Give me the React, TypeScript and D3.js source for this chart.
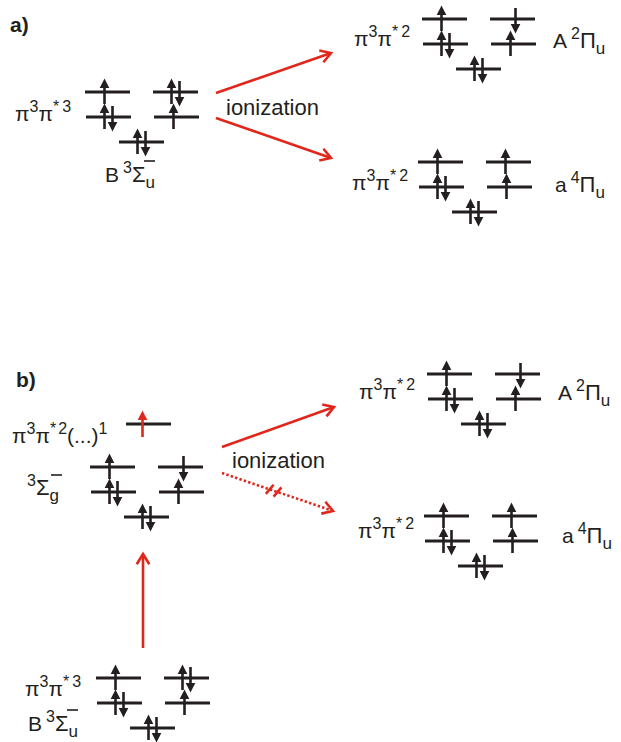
import React from "react";
import * as d3 from "d3";

// electron occupancy of the 5 levels: top-left, top-right, mid-left, mid-right, bottom
const levelKeys = ["TL", "TR", "ML", "MR", "B"];
const occB3Su = ["up", "pair", "pair", "up", "pair"];
const occA2Pu = ["up", "down", "pair", "up", "pair"];
const occa4Pu = ["up", "up", "pair", "up", "pair"];
const occ3Sg = ["up", "down", "pair", "up", "pair"];

const rows = ["top", "mid", "bottom"];
const cols = ["left", "center", "right"];

const RED = "#e1261c";
const INK = "#231f20";
const FONT = "'Liberation Sans', Arial, sans-serif";

const rowY = d3.scalePoint<string>().domain(rows).range([0, 50]);
const colX = d3.scalePoint<string>().domain(cols).range([0, 68]);
const levelPos: Record<string, [string, string, number]> = {
  TL: ["left", "top", 0],
  TR: ["right", "top", 0],
  ML: ["left", "mid", 1],
  MR: ["right", "mid", 1],
  B: ["center", "bottom", 0],
};
const LW = 45;

function Electron({ x, y, dir }: { x: number; y: number; dir: "up" | "down" }) {
  const p = d3.path();
  if (dir === "up") {
    p.moveTo(x, y + 12);
    p.lineTo(x, y - 5);
  } else {
    p.moveTo(x, y - 11);
    p.lineTo(x, y + 6);
  }
  const h = d3.path();
  if (dir === "up") {
    h.moveTo(x, y - 13.5);
    h.lineTo(x - 4.8, y - 4);
    h.lineTo(x + 4.8, y - 4);
  } else {
    h.moveTo(x, y + 14.5);
    h.lineTo(x - 4.8, y + 5);
    h.lineTo(x + 4.8, y + 5);
  }
  h.closePath();
  return (
    <g>
      <path d={p.toString()} stroke={INK} strokeWidth={2.6} />
      <path d={h.toString()} fill={INK} />
    </g>
  );
}

function Diagram({ ox, oy, occ }: { ox: number; oy: number; occ: string[] }) {
  return (
    <g transform={`translate(${ox},${oy})`}>
      {levelKeys.map((k, i) => {
        const [c, r, dx] = levelPos[k];
        const x0 = (colX(c) as number) + dx;
        const y = rowY(r) as number;
        const cx = x0 + LW / 2;
        const o = occ[i];
        return (
          <g key={k}>
            <line x1={x0} x2={x0 + LW} y1={y} y2={y} stroke={INK} strokeWidth={3.2} />
            {o === "pair" && (
              <>
                <Electron x={cx - 4} y={y} dir="up" />
                <Electron x={cx + 4} y={y} dir="down" />
              </>
            )}
            {o === "up" && <Electron x={cx - 3} y={y} dir="up" />}
            {o === "down" && <Electron x={cx + 3} y={y} dir="down" />}
          </g>
        );
      })}
    </g>
  );
}

function RedArrow({ x1, y1, x2, y2, dotted = false, broken = false }: any) {
  const a = Math.atan2(y2 - y1, x2 - x1);
  const L = 12;
  const spread = 0.55;
  const head = d3.path();
  head.moveTo(x2 - L * Math.cos(a - spread), y2 - L * Math.sin(a - spread));
  head.lineTo(x2, y2);
  head.lineTo(x2 - L * Math.cos(a + spread), y2 - L * Math.sin(a + spread));
  const marks: React.ReactNode[] = [];
  if (broken) {
    [0.43, 0.5].forEach((t, i) => {
      const mx = x1 + (x2 - x1) * t;
      const my = y1 + (y2 - y1) * t;
      const b = a - 1.2;
      marks.push(
        <line
          key={i}
          x1={mx - 6 * Math.cos(b)}
          y1={my - 6 * Math.sin(b)}
          x2={mx + 6 * Math.cos(b)}
          y2={my + 6 * Math.sin(b)}
          stroke={RED}
          strokeWidth={2.6}
        />
      );
    });
  }
  return (
    <g>
      <line
        x1={x1}
        y1={y1}
        x2={x2 - 1.5 * Math.cos(a)}
        y2={y2 - 1.5 * Math.sin(a)}
        stroke={RED}
        strokeWidth={2.6}
        strokeDasharray={dotted ? "2.4,2.2" : undefined}
      />
      <path d={head.toString()} fill="none" stroke={RED} strokeWidth={2.6} />
      {marks}
    </g>
  );
}

function Pi({ x, y, star }: { x: number; y: number; star: string }) {
  return (
    <text x={x} y={y} fontSize={21} fill={INK} fontFamily={FONT}>
      π<tspan fontSize={16} dy={-9}>3</tspan>
      <tspan dy={9}>π</tspan>
      <tspan fontSize={16} dy={-9}>*</tspan>
      <tspan fontSize={16} dx={3}>{star}</tspan>
    </text>
  );
}

function Term({ x, y, letter, mult, sym, sub }: any) {
  return (
    <text x={x} y={y} fontSize={21} fill={INK} fontFamily={FONT}>
      {letter}
      <tspan fontSize={16} dy={-9} dx={letter ? 4 : 0}>{mult}</tspan>
      <tspan dy={9} fontSize={22}>{sym}</tspan>
      <tspan fontSize={17} dy={6}>{sub}</tspan>
    </text>
  );
}

function Minus({ x, y }: { x: number; y: number }) {
  return <line x1={x} x2={x + 11} y1={y} y2={y} stroke={INK} strokeWidth={1.6} />;
}

export default function App() {
  return (
    <svg width={621} height={742} style={{ position: "absolute", left: 0, top: 0 }}>
      <rect width={621} height={742} fill="white" />
      {/* panel a */}
      <text x={10} y={32} fontSize={21} fontWeight="bold" fill={INK} fontFamily={FONT}>a)</text>
      <Pi x={15} y={121} star="3" />
      <Diagram ox={85} oy={92} occ={occB3Su} />
      <Term x={105} y={182} letter="B" mult="3" sym="Σ" sub="u" />
      <Minus x={144} y={161} />
      <RedArrow x1={216} y1={93} x2={331} y2={53} />
      <RedArrow x1={216} y1={118} x2={331} y2={158} />
      <text x={226} y={115} fontSize={22} fill={INK} fontFamily={FONT}>ionization</text>

      <Pi x={354} y={46} star="2" />
      <Diagram ox={422} oy={19} occ={occA2Pu} />
      <Term x={553} y={48} letter="A" mult="2" sym="Π" sub="u" />

      <Pi x={352} y={190} star="2" />
      <Diagram ox={418} oy={162} occ={occa4Pu} />
      <Term x={555} y={192} letter="a" mult="4" sym="Π" sub="u" />

      {/* panel b */}
      <text x={16} y={387} fontSize={21} fontWeight="bold" fill={INK} fontFamily={FONT}>b)</text>
      <text x={12} y={443} fontSize={21} fill={INK} fontFamily={FONT}>
        π<tspan fontSize={16} dy={-9}>3</tspan>
        <tspan dy={9}>π</tspan>
        <tspan fontSize={16} dy={-9}>*</tspan>
        <tspan fontSize={16} dx={2}>2</tspan>
        <tspan dy={9}>(...)</tspan>
        <tspan fontSize={16} dy={-9}>1</tspan>
      </text>
      <line x1={126} x2={171} y1={424} y2={424} stroke={INK} strokeWidth={3.2} />
      <line x1={142.5} x2={142.5} y1={437} y2={420} stroke={RED} strokeWidth={2.6} />
      <path d="M142.5,410.5 L137.7,420 L147.3,420 Z" fill={RED} />
      <Term x={27} y={495} letter="" mult="3" sym="Σ" sub="g" />
      <Minus x={51} y={475} />
      <Diagram ox={90} oy={467} occ={occ3Sg} />
      <RedArrow x1={222} y1={447} x2={334} y2={407} />
      <RedArrow x1={222} y1={473} x2={333} y2={511} dotted broken />
      <text x={232} y={468} fontSize={22} fill={INK} fontFamily={FONT}>ionization</text>

      <Pi x={359} y={399} star="2" />
      <Diagram ox={427} oy={374} occ={occA2Pu} />
      <Term x={558} y={400} letter="A" mult="2" sym="Π" sub="u" />

      <Pi x={358} y={538} star="2" />
      <Diagram ox={424} oy={516} occ={occa4Pu} />
      <Term x={562} y={543} letter="a" mult="4" sym="Π" sub="u" />

      <RedArrow x1={143} y1={648} x2={143} y2={554} />

      <Pi x={25} y={696} star="3" />
      <Diagram ox={96} oy={678} occ={occB3Su} />
      <Term x={28} y={731} letter="B" mult="3" sym="Σ" sub="u" />
      <Minus x={67} y={710} />
    </svg>
  );
}
